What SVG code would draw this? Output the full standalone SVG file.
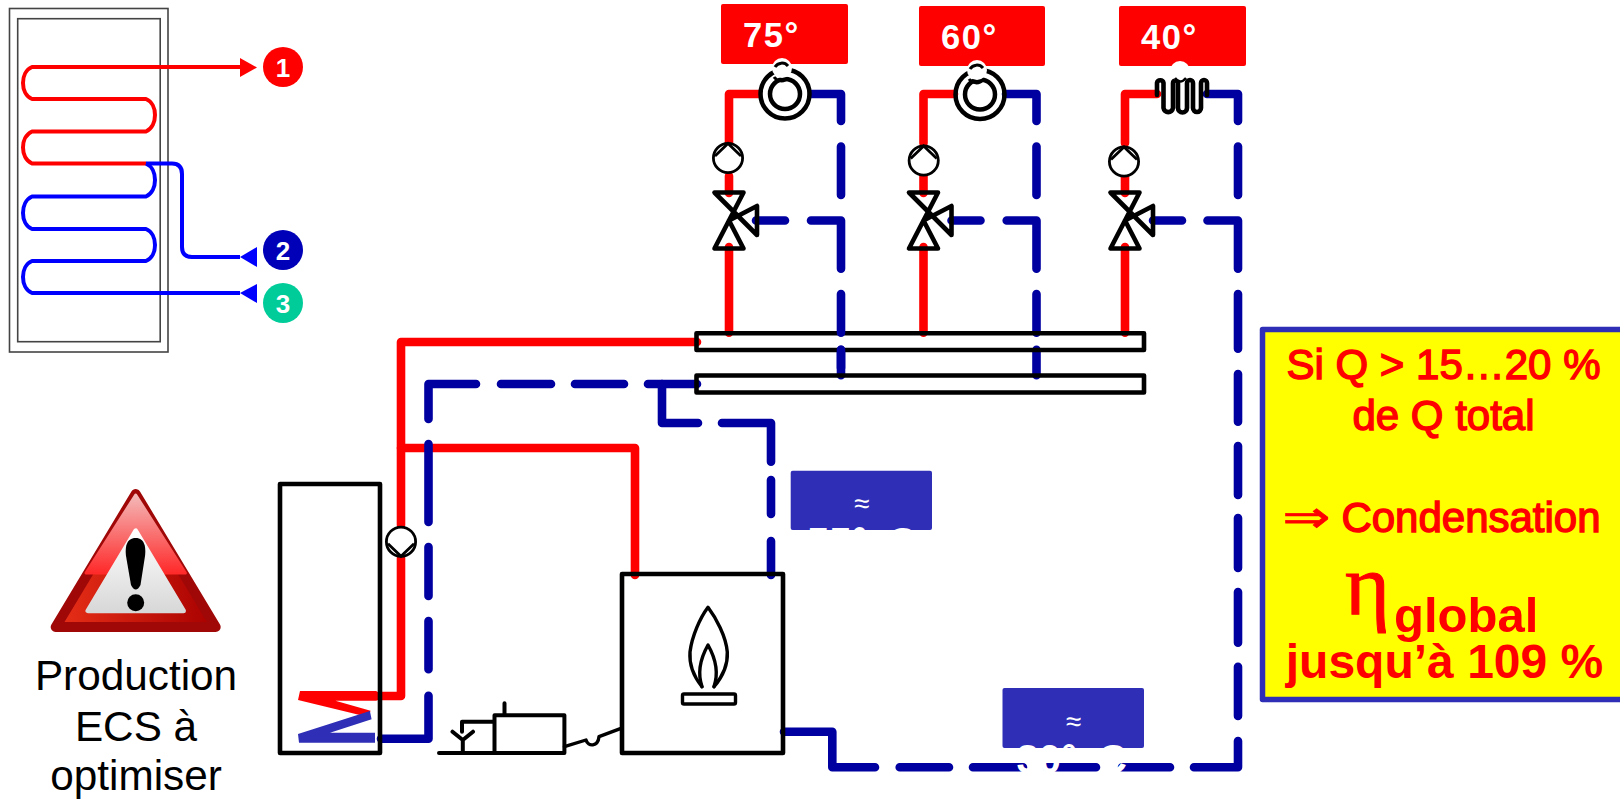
<svg xmlns="http://www.w3.org/2000/svg" width="1620" height="800" viewBox="0 0 1620 800">
<style>
text{font-family:"Liberation Sans",Arial,sans-serif}
.red{fill:none;stroke:#f00;stroke-width:8.6;stroke-linecap:round;stroke-linejoin:round}
.blue{fill:none;stroke:#0000a0;stroke-width:8.6;stroke-linecap:round;stroke-linejoin:round}
.blk{fill:none;stroke:#000;stroke-width:4.6;stroke-linejoin:round;stroke-linecap:round}
.thin{fill:none;stroke:#000;stroke-width:3.4;stroke-linejoin:round;stroke-linecap:round}
.tank{fill:none;stroke:#444;stroke-width:1.6}
.coilr{fill:none;stroke:#f00;stroke-width:4;stroke-linejoin:round}
.coilb{fill:none;stroke:#00f;stroke-width:4;stroke-linejoin:round}
.lab{fill:#f00;rx:2}
.tmp{fill:#fff;font-weight:700;font-size:34.500px;letter-spacing:1.6px}
.num{fill:#fff;font-weight:700;font-size:26px;text-anchor:middle}
.tbox{fill:#2e2eb6;rx:2}
.tval{fill:#fff;font-weight:700;font-size:40px}
.approx{fill:#fff;font-size:28px;text-anchor:middle}
.y1{fill:#f00;stroke:#f00;stroke-width:1.4;font-size:42px;text-anchor:middle}
.y2{fill:#f00;font-weight:700;font-size:48px}
.cap{fill:#000;font-size:42.300px;text-anchor:middle}
</style>
<defs>
<g id="pump"><circle r="14.6" fill="#fff" stroke="#000" stroke-width="2.8"/><path d="M-13 -2L0 -14.6L13 -2" fill="none" stroke="#000" stroke-width="2.8"/></g>
<g id="valve"><path class="blk" d="M-14.5 -28H14.5L0 0L-14.5 28H14.5L0 0L28 -14.500V14.500Z"/></g>
<g id="cap"><circle r="10" fill="#fff"/><path d="M-7 -1A8 8 0 0 1 6 -2M-8 9A9 9 0 0 0 6 10" fill="none" stroke="#000" stroke-width="3"/></g>
<linearGradient id="gu" x1="0" y1="0" x2="0" y2="1"><stop offset="0" stop-color="#f4b8b8"/><stop offset="1" stop-color="#ff2a2a"/></linearGradient>
<linearGradient id="gl" x1="0" y1="0" x2="1" y2="0"><stop offset="0" stop-color="#e83018"/><stop offset="1" stop-color="#a80000"/></linearGradient>
<linearGradient id="gw" x1="0" y1="0" x2="0" y2="1"><stop offset="0" stop-color="#fff"/><stop offset="1" stop-color="#d8d8d8"/></linearGradient>
</defs>

<g id="coil-tank">
<rect class="tank" x="9.5" y="8.5" width="158.5" height="343.5"/>
<rect class="tank" x="17.7" y="18.7" width="142.5" height="323"/>
<path class="coilr" d="M240 67H32C20 72 20 94 32 99H146C158 104 158 126 146 131.5H32C20 137 20 158 32 163.5H146"/>
<path class="coilb" d="M146 163.5C158 169 158 191 146 196.5H32C20 202 20 224 32 229H146C158 234 158 256 146 261H32C20 266 20 288 32 293H240"/>
<path class="coilb" d="M146 163.5H172Q182 163.5 182 174V247Q182 257 192 257H240"/>
<path d="M240 58L257 67.5L240 77Z" fill="#f00"/>
<path d="M240 257L257 247V267Z" fill="#00f"/>
<path d="M240 293L257 284V303Z" fill="#00f"/>
</g>
<g id="n1"><circle cx="283" cy="67" r="20" fill="#f00"/><text class="num" x="283" y="76.500">1</text></g>
<g id="n2"><circle cx="283" cy="250" r="20" fill="#0000b8"/><text class="num" x="283" y="259.500">2</text></g>
<g id="n3"><circle cx="283" cy="303" r="20" fill="#00cc99"/><text class="num" x="283" y="312.500">3</text></g>

<g id="warning">
<path d="M135.700 494L55.700 627H215.700Z" fill="url(#gl)" stroke="#a00808" stroke-width="10" stroke-linejoin="round"/>
<path d="M135.700 495L86 573H185.400Z" fill="url(#gu)" stroke="url(#gu)" stroke-width="3" stroke-linejoin="round"/>
<path d="M135.700 531L88 610.700H183.400Z" fill="url(#gw)" stroke="url(#gw)" stroke-width="5" stroke-linejoin="round"/>
<path d="M135.700 538C126 538 125 548 126 556L131 585Q135.700 594 140.500 585L145 556C146 548 145 538 135.700 538Z" fill="#000"/>
<circle cx="135.700" cy="602.700" r="8.500" fill="#000"/>
</g>
<g id="caption">
<text class="cap" x="136" y="690">Production</text>
<text class="cap" x="136" y="741">ECS à</text>
<text class="cap" x="136" y="790">optimiser</text>
</g>

<g id="bus-fill"><rect x="696.500" y="333.300" width="447.500" height="16.700" fill="#fff"/><rect x="696.500" y="375.500" width="447.500" height="17" fill="#fff"/></g>

<g id="connectors">
<path class="red" d="M758 94H729V143M729 176V193M729 247V332.700"/>
<path class="red" d="M954 94H923.500V143M923.500 176V193M923.500 247V332.700"/>
<path class="red" d="M1157 94H1125V143M1125 176V193M1125 247V332.700"/>
<path class="red" d="M697 342H401V525M401 558V696H377"/>
<path class="red" d="M401 448H635V575" stroke-linejoin="miter"/>
<path class="blue" d="M812 94H841V121M841 146.500V195M756 220.500H785M811 220.500H841V268.700M841 349.700V375.300"/>
<path class="blue" d="M1006 94H1036.500V121M1036.500 146.500V195M951.500 220.500H980.500M1006.700 220.500H1036.500V268.700M1036.500 294V332.700M1036.500 349.700V375.300"/>
<path class="blue" d="M1207 94H1238V121M1238 146.500V195M1153 220.500H1182M1207.500 220.500H1238V268.700M1238 294V348.700M1238 374V421.700M1238 446V495M1238 518V568M1238 592V642.700M1238 666.700V716M1238 741V767.300H1194M1170 767.300H1122M1096 767.300H1047M1023 767.300H973M949 767.300H899.700M875 767.300H832.300V731.700H784"/>
<path class="blue" d="M381 738.700H428.500V695.700M428.500 669.300V621M428.500 596V547M428.500 522V444M428.500 419V384H476M501 384H551M575 384H624M648 384H697"/>
<path class="blue" d="M662 384V423H698M722 423H771V461.700M771 480V514M771 541V575"/>
</g>

<g id="bus-top"><rect class="blk" x="696.500" y="333.300" width="447.500" height="16.700"/></g>
<g id="bus-bottom"><rect class="blk" x="696.500" y="375.500" width="447.500" height="17"/></g>
<path class="blue" d="M841 294V332.700M841 349.700V368"/>

<g id="tank">
<rect class="blk" x="280" y="484" width="100" height="269"/>
<path d="M300 691H376.700V700.700H335.400L370.600 710.700L368 717L298 700Z" fill="#f00"/>
<path d="M369.900 711L371.600 719.300L330 732.700H375V742.700H299L298 734Z" fill="#2e2eb6"/>
</g>

<g id="boiler">
<rect class="blk" x="622" y="574" width="161" height="179"/>
<path class="thin" d="M702 686.700C690 672 689.400 660 690 652C692 636 700 618 708 607.300C716 618 726 636 727.300 652C727.800 662 724 675 714 686.700"/>
<path class="thin" d="M702 686.700C698 675 699 661 708 645C717 661 718 675 714 686.700"/>
<rect class="thin" x="682.500" y="694" width="53" height="10" rx="1.500"/>
</g>

<g id="burner">
<path class="blk" style="stroke-width:4" d="M439 753H564.400V715.300H494.500V753M504.500 703.300V715.300M494.500 721.700H462V731.700M452.500 731.700L462.800 740L473 731.700M462.800 740V753"/>
<path class="thin" d="M564.400 746.700L586 740C588 747 598 747 599 736.700L621 728.300"/>
</g>

<g id="pump-1"><use href="#pump" x="728" y="158"/></g>
<g id="pump-2"><use href="#pump" x="923.700" y="160.500"/></g>
<g id="pump-3"><use href="#pump" x="1124" y="161.500"/></g>
<g id="pump-4"><use href="#pump" transform="translate(401 541.700) scale(1 -1)"/></g>
<g id="valve-1"><use href="#valve" x="729" y="220.500"/></g>
<g id="valve-2"><use href="#valve" x="923.500" y="220.500"/></g>
<g id="valve-3"><use href="#valve" x="1125" y="220.500"/></g>

<g id="rad-75">
<rect class="lab" x="721" y="4" width="127" height="60"/>
<text class="tmp" x="743" y="47">75°</text>
<circle cx="785" cy="94" r="24.500" fill="none" stroke="#000" stroke-width="4.500"/>
<circle cx="785" cy="94" r="15" fill="none" stroke="#000" stroke-width="4.500"/>
<use href="#cap" x="782" y="68"/>
</g>
<g id="rad-60">
<rect class="lab" x="919" y="6" width="126" height="60"/>
<text class="tmp" x="941" y="49">60°</text>
<circle cx="980" cy="94.500" r="24.500" fill="none" stroke="#000" stroke-width="4.500"/>
<circle cx="980" cy="94.500" r="15" fill="none" stroke="#000" stroke-width="4.500"/>
<use href="#cap" x="977" y="70"/>
</g>
<g id="rad-40">
<rect class="lab" x="1119" y="6" width="127" height="60"/>
<text class="tmp" x="1141" y="49">40°</text>
<path class="blk" d="M1157 95V83A3.300 3.300 0 0 1 1163.500 83V108A4.800 4.800 0 0 0 1173 108V83A2.500 2.500 0 0 1 1178 83V108A4.500 4.500 0 0 0 1187 108V83A3 3 0 0 1 1193 83V108A4 4 0 0 0 1201 108V83A3 3 0 0 1 1207 83V95"/>
<circle cx="1180" cy="71" r="10" fill="#fff"/>
<path d="M1175 78Q1180 85 1186 78" fill="none" stroke="#000" stroke-width="2.500"/>
</g>

<g id="t-55">
<rect class="tbox" x="790.700" y="470.700" width="141.300" height="59.300"/>
<text class="approx" x="861.700" y="513">≈</text>
<text class="tval" x="807" y="556">55° <tspan dx="9">C</tspan></text>
</g>
<g id="t-30">
<rect class="tbox" x="1002.500" y="688" width="141.500" height="60"/>
<text class="approx" x="1073.500" y="731">≈</text>
<text class="tval" x="1016.500" y="773">30° <tspan dx="10">C</tspan></text>
</g>

<g id="note">
<rect x="1262.500" y="329.500" width="400" height="370" fill="#ff0" stroke="#2e2eb6" stroke-width="5.500" stroke-linejoin="round"/>
<text class="y1" x="1443.500" y="379">Si Q &gt; 15…20 %</text>
<text class="y1" x="1443.500" y="430">de Q total</text>
<text class="y1" transform="translate(1306.500 532) scale(1.3 1)" style="font-family:'DejaVu Sans',sans-serif;font-size:44px;stroke-width:.8">⇒</text>
<text class="y1" x="1471" y="532">Condensation</text>
<text x="1345" y="614" style="font-family:'Liberation Serif',serif;font-size:86px;fill:#f00;stroke:#f00;stroke-width:1">η</text>
<text class="y2" x="1394" y="632" style="font-size:49px">global</text>
<text class="y2" x="1444.500" y="678" text-anchor="middle">jusqu’à 109 %</text>
</g>
</svg>
